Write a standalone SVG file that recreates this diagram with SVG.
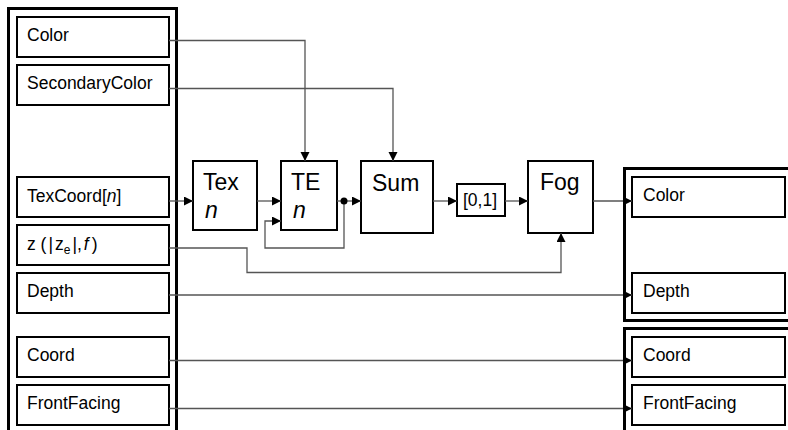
<svg xmlns="http://www.w3.org/2000/svg" width="788" height="430" viewBox="0 0 788 430">
<style>
.frame{fill:none;stroke:#000;stroke-width:3}
.box{fill:#fff;stroke:#000;stroke-width:2}
.lbl{font-family:"Liberation Sans",Arial,sans-serif;font-size:17.5px;fill:#000}
.big{font-family:"Liberation Sans",Arial,sans-serif;font-size:23px;fill:#000}
.it{font-style:italic}
.wire{fill:none;stroke:#555;stroke-width:1.3}
</style>
<defs>
<marker id="ah" markerUnits="userSpaceOnUse" markerWidth="10" markerHeight="10" refX="9" refY="4.5" orient="auto">
<path d="M0,0 L9,4.5 L0,9 z" fill="#000"/>
</marker>
</defs>
<rect x="0" y="0" width="788" height="430" fill="#fff"/>
<g id="inputs">
<rect class="frame" x="8.5" y="8.5" width="168" height="440"/>
<g id="in-color"><rect class="box" x="17" y="17" width="152" height="40"/><text class="lbl" x="27" y="41">Color</text></g>
<g id="in-secondary"><rect class="box" x="17" y="65" width="152" height="40"/><text class="lbl" x="27" y="89">SecondaryColor</text></g>
<g id="in-texcoord"><rect class="box" x="17" y="177" width="152" height="40"/><text class="lbl" x="27" y="201.5">TexCoord[<tspan class="it">n</tspan>]</text></g>
<g id="in-z"><rect class="box" x="17" y="225" width="152" height="40"/><text class="lbl" x="27" y="249.5">z (<tspan dx="2">|</tspan><tspan dx="2">z</tspan><tspan font-size="12" dy="4">e</tspan><tspan dy="-4" dx="2">|,</tspan><tspan class="it" dx="2">f</tspan><tspan dx="3">)</tspan></text></g>
<g id="in-depth"><rect class="box" x="17" y="273" width="152" height="40"/><text class="lbl" x="27" y="297">Depth</text></g>
<g id="in-coord"><rect class="box" x="17" y="337" width="152" height="40"/><text class="lbl" x="27" y="361">Coord</text></g>
<g id="in-frontfacing"><rect class="box" x="17" y="385" width="152" height="40"/><text class="lbl" x="27" y="409">FrontFacing</text></g>
</g>
<g id="outputs">
<rect class="frame" x="624.5" y="168.5" width="200" height="152"/>
<rect class="frame" x="624.5" y="328.5" width="200" height="200"/>
<g id="out-color"><rect class="box" x="632" y="177" width="153" height="40"/><text class="lbl" x="643" y="201">Color</text></g>
<g id="out-depth"><rect class="box" x="632" y="273" width="153" height="40"/><text class="lbl" x="643" y="297">Depth</text></g>
<g id="out-coord"><rect class="box" x="632" y="337" width="153" height="40"/><text class="lbl" x="643" y="361">Coord</text></g>
<g id="out-frontfacing"><rect class="box" x="632" y="385" width="153" height="40"/><text class="lbl" x="643" y="409">FrontFacing</text></g>
</g>
<g id="tex"><rect class="box" x="193" y="161" width="64" height="69"/><text class="big" x="203" y="190">Tex</text><text class="big it" x="205" y="218" font-size="25">n</text></g>
<g id="te"><rect class="box" x="281" y="161" width="56" height="69"/><text class="big" x="291" y="190">TE</text><text class="big it" x="293" y="218" font-size="25">n</text></g>
<g id="sum"><rect class="box" x="361" y="161" width="72" height="72"/><text class="big" x="372" y="191">Sum</text></g>
<g id="clamp"><rect class="box" x="457" y="184" width="48" height="32"/><text class="lbl" x="463" y="206" font-size="16">[0,1]</text></g>
<g id="fog"><rect class="box" x="528" y="161" width="65" height="72"/><text class="big" x="540" y="190">Fog</text></g>
<g id="connectors">
<path class="wire" d="M169,40.5 H305 V161" marker-end="url(#ah)"/>
<path class="wire" d="M169,88.5 H393 V161" marker-end="url(#ah)"/>
<path class="wire" d="M169,201 H193" marker-end="url(#ah)"/>
<path class="wire" d="M257,201 H281" marker-end="url(#ah)"/>
<path class="wire" d="M337,201 H361" marker-end="url(#ah)"/>
<path class="wire" d="M344,201 V248 H265 V221 H281" marker-end="url(#ah)"/>
<circle cx="344" cy="201" r="3.5" fill="#000"/>
<path class="wire" d="M433,201 H457" marker-end="url(#ah)"/>
<path class="wire" d="M505,201 H528" marker-end="url(#ah)"/>
<path class="wire" d="M169,248 H247 V272.5 H561 V233" marker-end="url(#ah)"/>
<path class="wire" d="M593,201 H632" marker-end="url(#ah)"/>
<path class="wire" d="M169,295 H632" marker-end="url(#ah)"/>
<path class="wire" d="M169,360.5 H632" marker-end="url(#ah)"/>
<path class="wire" d="M169,408.5 H632" marker-end="url(#ah)"/>
</g>
</svg>
